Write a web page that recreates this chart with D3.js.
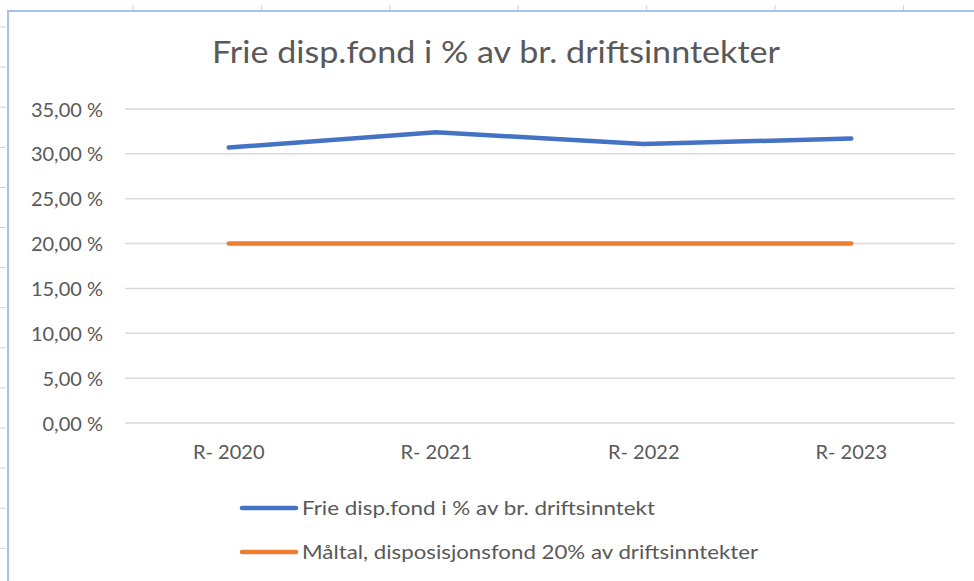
<html>
    <head>
        <meta charset="utf-8">
        <script src="https://cdn.jsdelivr.net/npm/d3@7"></script>
        <style type="text/css">
        body {
            margin: 0;
            background: #fff;
            font-family: Lato, "Noto Sans", sans-serif;
        }
        .grid line {
            stroke: #d9d9d9;
            stroke-width: 1.5px;
        }
        .axis path, .axis line {
            display: none;
        }
        .axis text, .legend text {
            fill: #595959;
            font-family: Lato, "Noto Sans", sans-serif;
        }
        .sheet line {
            stroke: #d0d0d0;
            stroke-width: 1px;
        }
        </style>
    </head>
    <body>
        <svg id="chart" width="974" height="581"></svg>
        <script>
        // chart data
        var categories = ["R- 2020", "R- 2021", "R- 2022", "R- 2023"];
        var frieDisp = [30.7, 32.4, 31.1, 31.7];
        var maltal = [20, 20, 20, 20];
        var yTicks = [0, 5, 10, 15, 20, 25, 30, 35];
        var seriesNames = ["Frie disp.fond i % av br. driftsinntekt",
                           "Måltal, disposisjonsfond 20% av driftsinntekter"];
        var title = "Frie disp.fond i % av br. driftsinntekter";

        var svg = d3.select("#chart");
        var W = 974, H = 581;
        // plot area (note: "top" is reserved on window, so use plot* names)
        var plotLeft = 125, plotRight = 955, plotTop = 109, plotBottom = 423;

        // spreadsheet cell borders behind the chart
        var sheet = svg.append("g").attr("class", "sheet");
        d3.range(133, W, 128.4).forEach(function(x) {
            sheet.append("line").attr("x1", x).attr("x2", x).attr("y1", 5).attr("y2", 11);
        });
        d3.range(27, H, 40.1).forEach(function(y) {
            sheet.append("line").attr("x1", 0).attr("x2", 6).attr("y1", y).attr("y2", y);
        });

        // chart area frame
        svg.append("rect")
            .attr("x", 8).attr("y", 11)
            .attr("width", W + 10).attr("height", H + 10)
            .attr("fill", "#fff")
            .attr("stroke", "#a8c1ea")
            .attr("stroke-width", 2);

        var x = d3.scaleBand().domain(categories).range([plotLeft, plotRight]).padding(0);
        var y = d3.scaleLinear().domain([0, 35]).range([plotBottom, plotTop]);
        var fmt = function(d) { return d3.format(".2f")(d).replace(".", ",") + " %"; };

        // gridlines
        svg.append("g").attr("class", "grid")
            .selectAll("line").data(yTicks).enter().append("line")
            .attr("x1", plotLeft).attr("x2", plotRight)
            .attr("y1", function(d) { return y(d); })
            .attr("y2", function(d) { return y(d); });

        // y axis
        svg.append("g").attr("class", "axis")
            .attr("transform", "translate(" + 103 + ",0)")
            .call(d3.axisLeft(y).tickValues(yTicks).tickFormat(fmt).tickSize(0).tickPadding(0))
            .selectAll("text")
            .style("font-size", "20px")
            .attr("dy", "0.35em");

        // x axis
        svg.append("g").attr("class", "axis")
            .attr("transform", "translate(0," + 442 + ")")
            .call(d3.axisBottom(x).tickSize(0).tickPadding(0))
            .selectAll("text")
            .style("font-size", "20px")
            .attr("dy", "0.85em");

        var line = d3.line()
            .x(function(d, i) { return x(categories[i]) + x.bandwidth() / 2; })
            .y(function(d) { return y(d); });

        var colors = ["#4472c4", "#ed7d31"];
        [frieDisp, maltal].forEach(function(s, i) {
            svg.append("path")
                .datum(s)
                .attr("d", line)
                .attr("fill", "none")
                .attr("stroke", colors[i])
                .attr("stroke-width", 4.5)
                .attr("stroke-linecap", "round")
                .attr("stroke-linejoin", "round");
        });

        // title
        svg.append("text")
            .attr("x", 212).attr("y", 63)
            .attr("textLength", 568)
            .attr("lengthAdjust", "spacingAndGlyphs")
            .style("font-size", "31px")
            .style("fill", "#595959")
            .text(title);

        // legend
        var legendWidths = [353, 456];
        var legend = svg.append("g").attr("class", "legend");
        seriesNames.forEach(function(name, i) {
            var ly = 508 + i * 44;
            legend.append("line")
                .attr("x1", 242).attr("x2", 296)
                .attr("y1", ly).attr("y2", ly)
                .attr("stroke", colors[i])
                .attr("stroke-width", 4.5)
                .attr("stroke-linecap", "round");
            legend.append("text")
                .attr("x", 302).attr("y", ly)
                .attr("dy", "0.35em")
                .attr("textLength", legendWidths[i])
                .attr("lengthAdjust", "spacingAndGlyphs")
                .style("font-size", "20px")
                .text(name);
        });
        </script>
    </body>
</html>
